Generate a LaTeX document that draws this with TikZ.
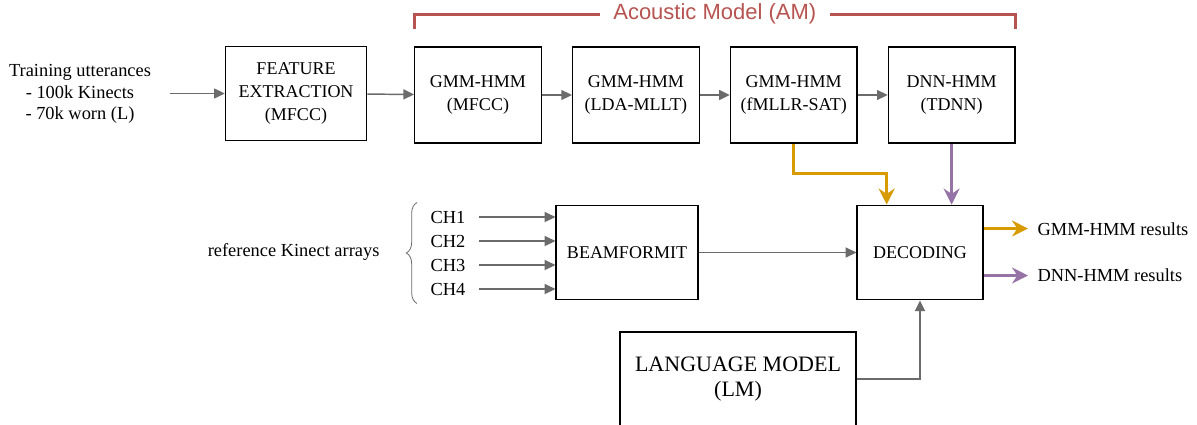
\documentclass[tikz,border=0pt]{standalone}
\usepackage{fontspec}
\setmainfont{Liberation Serif}
\newfontfamily\amfont{Liberation Sans}
\usetikzlibrary{arrows.meta,positioning,decorations.pathreplacing,calc}
\definecolor{amred}{HTML}{B85450}
\definecolor{gmmorange}{HTML}{D79B00}
\definecolor{dnnpurple}{HTML}{9673A6}
\definecolor{flowgray}{HTML}{6B6B6B}
\tikzset{
    asrbox/.style={draw, line width=0.9pt, align=center,
        font=\fontsize{13.5}{17.25}\selectfont,
        minimum width=95pt, minimum height=72pt, inner sep=2pt},
    asrtext/.style={align=center, font=\fontsize{13.8}{16.2}\selectfont, inner sep=1pt},
    asrarrow/.style={-{Triangle[length=8pt,width=7.5pt]}, line width=1.1pt, draw=flowgray},
    gmmarrow/.style={-{Stealth[length=12pt,width=12pt,inset=4pt]}, line width=2pt, draw=gmmorange},
    dnnarrow/.style={-{Stealth[length=12pt,width=12pt,inset=4pt]}, line width=2pt, draw=dnnpurple},
    ambracket/.style={draw=amred, line width=2.2pt}
}

\begin{document}
\begin{tikzpicture}[x=0.75pt, y=-0.75pt, node distance=22.5pt]
\useasboundingbox (0,0) rectangle (1197,425);

% acoustic model chain
\node[asrbox, minimum width=106pt, minimum height=70pt] (feat) at (296,93.5) {FEATURE\\EXTRACTION\\(MFCC)};
\node[asrbox] (mfcc) at (478,95) {GMM-HMM\\(MFCC)};
\node[asrbox, right=of mfcc] (lda) {GMM-HMM\\(LDA-MLLT)};
\node[asrbox, right=of lda] (fmllr) {GMM-HMM\\(fMLLR-SAT)};
\node[asrbox, right=of fmllr] (tdnn) {DNN-HMM\\(TDNN)};
\node[asrtext, anchor=center] (train) at (80,94) {Training utterances\\- 100k Kinects\\- 70k worn (L)};

\draw[asrarrow] ([xshift=13pt]train.east |- feat.west) -- (feat.west);
\draw[asrarrow] (feat) -- (mfcc);
\draw[asrarrow] (mfcc) -- (lda);
\draw[asrarrow] (lda) -- (fmllr);
\draw[asrarrow] (fmllr) -- (tdnn);

% bracket over the AM
\coordinate (amleft) at ([yshift=13pt]mfcc.north west);
\coordinate (amright) at ([yshift=13pt]tdnn.north east);
\draw[ambracket] (amleft) -- ++(0,-15) -- node[fill=white, text=amred, inner xsep=10pt,
    font=\amfont\fontsize{16.5}{19}\selectfont] (amlabel) {Acoustic Model (AM)}
    ($(amright)+(0,-15)$) -- (amright);

% decoding part
\node[asrbox, minimum width=94.5pt, minimum height=71pt] (dec) at (920,252.5) {DECODING};
\node[asrbox, minimum width=106.5pt, minimum height=71pt] (beam) at (627,252.5) {BEAMFORMIT};
\node[asrbox, minimum width=177pt, minimum height=70.5pt,
    font=\fontsize{16.5}{19}\selectfont] (lm) at (738,379) {LANGUAGE MODEL\\(LM)};

\foreach \i/\y in {1/217,2/241,3/265,4/289}{
    \node[asrtext, anchor=west] (ch\i) at (429,\y) {CH\i};
    \draw[asrarrow, shorten <=9pt] (ch\i.east) -- (beam.west |- ch\i.east);
}
\draw[decorate, decoration={brace, amplitude=8pt}, line width=0.6pt, draw=flowgray]
    ([xshift=-9pt,yshift=-5pt]ch4.south west) -- ([xshift=-9pt,yshift=5pt]ch1.north west);
\node[asrtext, anchor=east] (kinect) at (381,252) {reference Kinect arrays};

\draw[asrarrow] (beam.east) -- (dec.west |- beam.east);
\draw[asrarrow] (lm.east) -| (dec.south);

\coordinate (gmmout) at ($(dec.north east)!0.25!(dec.south east)$);
\coordinate (dnnout) at ($(dec.north east)!0.74!(dec.south east)$);
\node[asrtext, anchor=west] (gmmres) at (1036,229) {GMM-HMM results};
\node[asrtext, anchor=west] (dnnres) at (1036,275) {DNN-HMM results};

\draw[gmmarrow] (fmllr.south) -- ++(0,-22.5pt) -| ([xshift=-25pt]dec.north);
\draw[dnnarrow] (tdnn.south) -- (tdnn.south |- dec.north);
\draw[gmmarrow, shorten >=6pt] (gmmout) -- (gmmres.west |- gmmout);
\draw[dnnarrow, shorten >=6pt] (dnnout) -- (dnnres.west |- dnnout);
\end{tikzpicture}
\end{document}
